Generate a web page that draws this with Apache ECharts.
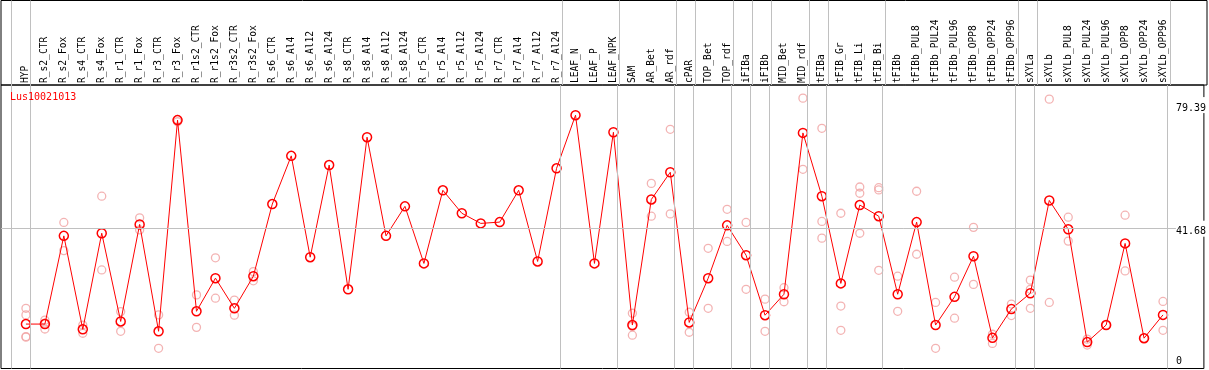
<!DOCTYPE html>
<html><head><meta charset="utf-8">
<script src="https://cdn.jsdelivr.net/npm/echarts@6/dist/echarts.min.js"></script>
<style>html,body{margin:0;padding:0;background:#fff}#c{width:1209px;height:370px}</style>
</head><body><div id="c"></div>
<script>
const geneId = 'Lus10021013';
const categories = ['HYP','R_s2_CTR','R_s2_Fox','R_s4_CTR','R_s4_Fox','R_r1_CTR','R_r1_Fox','R_r3_CTR','R_r3_Fox',
  'R_r1s2_CTR','R_r1s2_Fox','R_r3s2_CTR','R_r3s2_Fox','R_s6_CTR','R_s6_Al4','R_s6_Al12','R_s6_Al24',
  'R_s8_CTR','R_s8_Al4','R_s8_Al12','R_s8_Al24','R_r5_CTR','R_r5_Al4','R_r5_Al12','R_r5_Al24',
  'R_r7_CTR','R_r7_Al4','R_r7_Al12','R_r7_Al24','LEAF_N','LEAF_P','LEAF_NPK','SAM','AR_Bet','AR_rdf',
  'cPAR','TOP_Bet','TOP_rdf','iFIBa','iFIBb','MID_Bet','MID_rdf','tFIBa','tFIB_Gr','tFIB_Li','tFIB_Bi',
  'tFIBb','tFIBb_PUL8','tFIBb_PUL24','tFIBb_PUL96','tFIBb_OPP8','tFIBb_OPP24','tFIBb_OPP96',
  'sXYLa','sXYLb','sXYLb_PUL8','sXYLb_PUL24','sXYLb_PUL96','sXYLb_OPP8','sXYLb_OPP24','sXYLb_OPP96'];
const means = [12.6,12.6,39.5,11.0,40.3,13.4,43.0,10.4,74.8,16.5,26.6,17.4,27.2,49.2,63.9,33.0,61.1,
  23.2,69.6,39.5,48.5,31.1,53.4,46.4,43.3,43.7,53.4,31.7,60.1,76.3,31.1,71.1,12.3,50.6,58.9,
  13.1,26.6,42.7,33.6,15.3,21.7,70.9,51.6,25.0,48.9,45.5,21.7,43.7,12.3,20.9,33.3,8.4,17.2,
  22.0,50.3,41.5,7.1,12.3,37.2,8.3,15.4];
const replicates = [[17.4,15.4,8.8,8.6],[13.8,12.9,11.1],[43.6,35.0],[12.3,9.8],[51.6,29.1],[16.4,10.4],
  [45.0,41.3],[15.4,5.2],[75.0,74.3],[21.5,11.6],[32.8,20.5],[19.9,15.3],[28.6,25.8],
  [],[],[],[],[],[],[],[],[],[],[],[],[],[],[],[],[],[],[],
  [15.9,11.9,9.2],[55.5,45.5],[72.0,46.2],[16.2,10.1],[35.7,17.4],[47.6,37.8],[43.6,23.2],[20.2,10.4],
  [23.7,19.4],[81.5,59.8],[72.3,43.9,38.8],[46.4,18.1,10.7],[54.4,52.5,40.3],[54.2,53.5,29.0],
  [27.2,16.5],[53.1,33.9],[19.2,5.2],[26.9,14.4],[42.1,24.7],[9.5,6.7],[18.7,15.2],
  [26.0,23.2,17.4],[81.2,19.2],[45.2,37.9],[6.2,8.0],[12.3],[45.8,28.8],[8.3],[19.5,10.7]];
// index of the last category in each group (-1 = before the first one)
const groupEnds = [-1,0,28,31,34,35,37,38,39,41,42,45,52,53,60];
const yTickValues = [0, 41.68, 79.39];
const gridValue = 41.68;

const font = 'DejaVu Sans Mono';
const sepOffset = 4 / 19;
const xMin = -25 / 19, xMax = 1181 / 19;
const yMin = -0.95, yMax = 85.51;
const sepData = groupEnds.map(g => ({ xAxis: g + sepOffset }));
const sepLineStyle = { color: '#c0c0c0', width: 1, type: 'solid' };

const repData = [];
replicates.forEach((arr, i) => arr.forEach(v => repData.push([i, v])));

const chart = echarts.init(document.getElementById('c'), null, { renderer: 'canvas' });
chart.setOption({
  animation: false,
  title: { text: geneId, left: 10, top: 92, padding: 0, textStyle: { color: '#ff0000', fontFamily: font, fontSize: 10, fontWeight: 'normal' } },
  grid: [
    { left: 1, right: 2, top: 0.5, height: 84.5, show: true, borderColor: '#000', borderWidth: 1, backgroundColor: 'transparent' },
    { left: 1, right: 1.5, top: 85, bottom: 1.5, show: true, borderColor: '#000', borderWidth: 1, backgroundColor: 'transparent' }
  ],
  xAxis: [
    { gridIndex: 1, type: 'value', position: 'top', min: xMin, max: xMax,
      axisLine: { show: false }, axisTick: { show: false }, splitLine: { show: false },
      axisLabel: { customValues: categories.map((_, i) => i), formatter: v => categories[Math.round(v)] || '',
        rotate: 90, margin: 2, fontFamily: font, fontSize: 9.6, color: '#000' } },
    { gridIndex: 0, type: 'value', min: xMin, max: xMax, show: false }
  ],
  yAxis: [
    { gridIndex: 1, type: 'value', position: 'right', min: yMin, max: yMax, z: 10,
      axisLine: { show: false }, axisTick: { show: false }, splitLine: { show: false },
      axisLabel: { customValues: yTickValues, inside: true, align: 'left', margin: 28,
        formatter: v => v === 0 ? '{b|0}' : '{t|' + v + '}',
        rich: {
          t: { fontFamily: font, fontSize: 10, color: '#000', backgroundColor: '#fff', padding: [6, 0, 0, 0] },
          b: { fontFamily: font, fontSize: 10, color: '#000', padding: [0, 0, 7, 0] }
        } } },
    { gridIndex: 0, type: 'value', min: 0, max: 1, show: false }
  ],
  series: [
    { type: 'line', xAxisIndex: 1, yAxisIndex: 1, data: [], silent: true,
      markLine: { silent: true, symbol: 'none', label: { show: false }, lineStyle: sepLineStyle, data: sepData } },
    { type: 'line', xAxisIndex: 0, yAxisIndex: 0, data: [], silent: true, z: 1,
      markLine: { silent: true, symbol: 'none', label: { show: false }, lineStyle: sepLineStyle,
        data: sepData.concat([{ yAxis: gridValue }]) } },
    { type: 'scatter', xAxisIndex: 0, yAxisIndex: 0, data: repData, z: 2,
      symbol: 'circle', symbolSize: 8,
      itemStyle: { color: 'rgba(255,255,255,0)', borderColor: '#f0a0a0', borderWidth: 1.3 } },
    { type: 'line', xAxisIndex: 0, yAxisIndex: 0, data: means.map((v, i) => [i, v]), z: 3,
      symbol: 'circle', symbolSize: 9, showAllSymbol: true,
      lineStyle: { color: '#ff0000', width: 1 },
      itemStyle: { color: 'rgba(255,255,255,0)', borderColor: '#ff0000', borderWidth: 1.5 } }
  ]
});
</script></body></html>
